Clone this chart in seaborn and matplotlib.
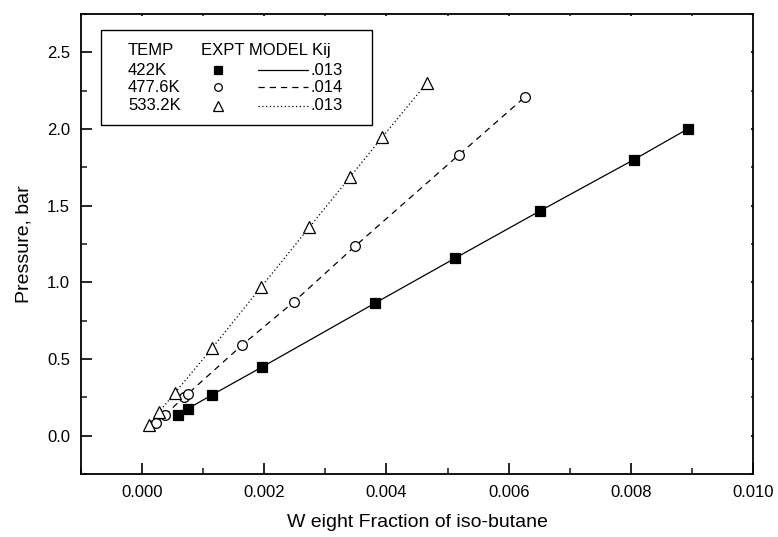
import matplotlib
matplotlib.use("Agg")
import matplotlib.pyplot as plt
from matplotlib.ticker import MultipleLocator, FormatStrFormatter
from matplotlib.lines import Line2D
from matplotlib.patches import Rectangle
import seaborn as sns
import pandas as pd

# ---- data ----
temps = ["422K", "477.6K", "533.2K"]
kij = [".013", ".014", ".013"]

x_422 = [0.00059, 0.00075, 0.00115, 0.00197, 0.00382, 0.00513, 0.00651, 0.00805, 0.00893]
p_422 = [0.137, 0.176, 0.267, 0.449, 0.866, 1.159, 1.465, 1.80, 2.00]

x_477 = [0.00023, 0.00038, 0.00068, 0.00075, 0.00164, 0.00249, 0.00349, 0.00518, 0.00627]
p_477 = [0.085, 0.137, 0.250, 0.273, 0.592, 0.875, 1.237, 1.829, 2.21]

x_533 = [0.00011, 0.00028, 0.00054, 0.00115, 0.00195, 0.00274, 0.00341, 0.00393, 0.00466]
p_533 = [0.072, 0.156, 0.280, 0.573, 0.970, 1.360, 1.690, 1.946, 2.300]

sns.set_theme(style="ticks")
plt.rcParams['font.family'] = ['Liberation Sans', 'DejaVu Sans']
plt.rcParams['text.color'] = 'black'
plt.rcParams['axes.labelcolor'] = 'black'

fig = plt.figure(figsize=(7.78, 5.37), dpi=100)
ax = fig.add_axes([81/778, 63/537, 672/778, 460/537])

series = [
    (x_422, p_422, "s", "black", "-", 7.0),
    (x_477, p_477, "o", "white", (0, (5, 4)), 7.0),
    (x_533, p_533, "^", "white", (0, (1, 2)), 8.0),
]
for (xs, ps, mk, fc, ls, ms), t in zip(series, temps):
    df = pd.DataFrame({"x": xs, "p": ps})
    sns.lineplot(data=df, x="x", y="p", ax=ax, color="black", linewidth=0.9,
                 linestyle=ls, marker=mk, markersize=ms, markerfacecolor=fc,
                 markeredgecolor="black", markeredgewidth=0.9, legend=False,
                 sort=True)

ax.set_xlim(-0.001, 0.010)
ax.set_ylim(-0.25, 2.75)
ax.xaxis.set_major_locator(MultipleLocator(0.002))
ax.xaxis.set_minor_locator(MultipleLocator(0.001))
ax.yaxis.set_major_locator(MultipleLocator(0.5))
ax.yaxis.set_minor_locator(MultipleLocator(0.25))
ax.xaxis.set_major_formatter(FormatStrFormatter("%.3f"))
ax.yaxis.set_major_formatter(FormatStrFormatter("%.1f"))

ax.tick_params(which="major", direction="in", length=8, width=1.2,
               labelsize=12, colors="black", pad=8)
ax.tick_params(which="minor", direction="in", length=4, width=1.2)
ax.tick_params(which="both", top=True, right=True)
# top and right ticks are barely visible in the reference
for t in ax.xaxis.get_major_ticks() + ax.xaxis.get_minor_ticks():
    t.tick2line.set_markersize(1.5)
for t in ax.yaxis.get_major_ticks() + ax.yaxis.get_minor_ticks():
    t.tick2line.set_markersize(1.5)
for sp in ax.spines.values():
    sp.set_linewidth(1.3)
    sp.set_color("black")

ax.set_xlabel("W eight Fraction of iso-butane", fontsize=14, labelpad=10)
ax.set_ylabel("Pressure, bar", fontsize=14, labelpad=10)

# ---- custom legend table ----
tr = ax.transAxes
ax.add_patch(Rectangle((0.0298, 0.7587), 0.4032, 0.2065, transform=tr,
                       facecolor="white", edgecolor="black", linewidth=1.0, zorder=5))
fs = 12
ax.text(0.070, 0.9217, "TEMP", transform=tr, fontsize=fs, va="center", ha="left", zorder=6)
ax.text(0.1786, 0.9217, "EXPT MODEL Kij", transform=tr, fontsize=fs, va="center", ha="left", zorder=6)
rows_y = [0.878, 0.841, 0.800]
for (xs, ps, mk, fc, ls, ms), t, k, yy in zip(series, temps, kij, rows_y):
    ax.text(0.070, yy, t, transform=tr, fontsize=fs, va="center", ha="left", zorder=6)
    ax.add_line(Line2D([0.2039], [yy], transform=tr, marker=mk, markersize=ms - 1.5,
                       markerfacecolor=fc, markeredgecolor="black", markeredgewidth=0.9,
                       linestyle="none", zorder=6))
    ax.add_line(Line2D([0.2634, 0.3378], [yy, yy], transform=tr, color="black",
                       linewidth=0.9, linestyle=ls, zorder=6))
    ax.text(0.3408, yy, k, transform=tr, fontsize=fs, va="center", ha="left", zorder=6)

fig.savefig("out.png", dpi=100)
